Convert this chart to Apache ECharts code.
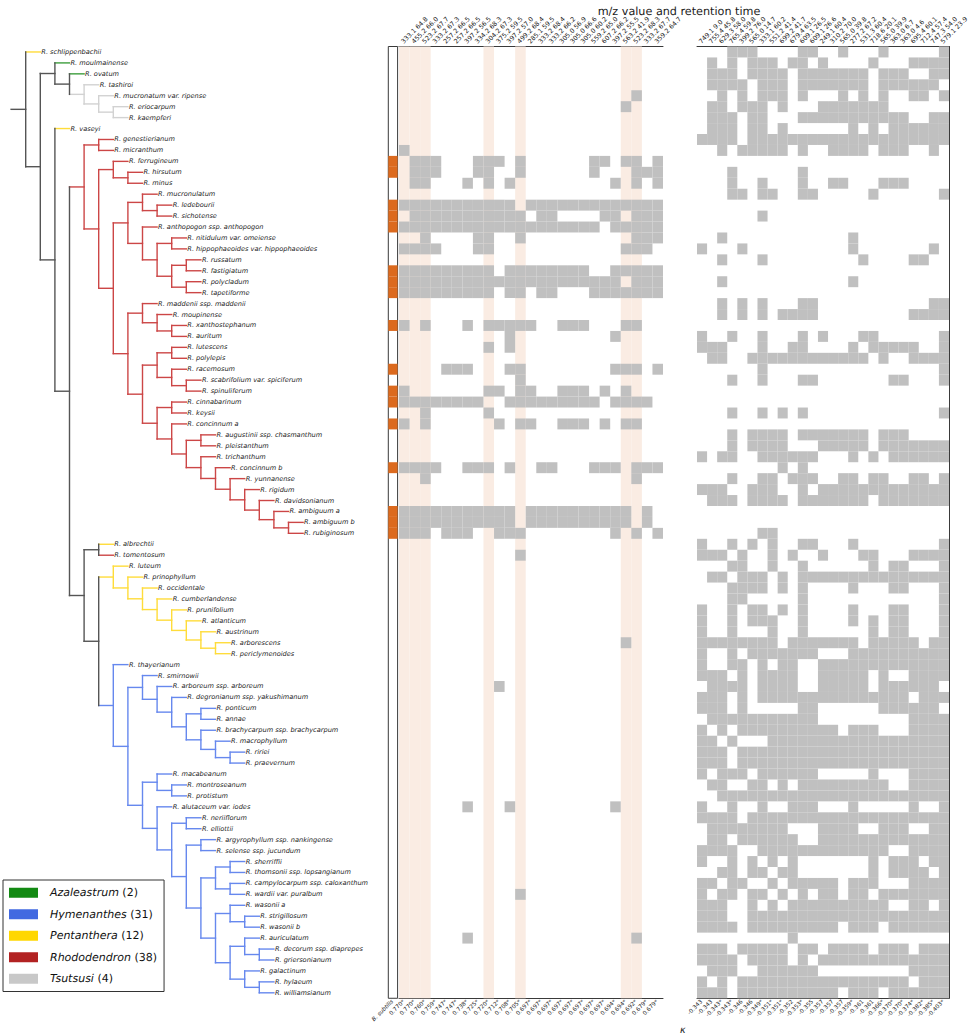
<!DOCTYPE html>
<html>
<head>
<meta charset="utf-8">
<script src="https://cdn.jsdelivr.net/npm/echarts@6/dist/echarts.min.js"></script>
<style>html,body{margin:0;padding:0;background:#fff}#c{width:970px;height:1036px}#c text{-webkit-font-smoothing:antialiased;text-rendering:geometricPrecision}</style>
</head>
<body>
<div id="c"></div>
<script>
// ---------------- DATA ----------------
const tree = [
 'R. schlippenbachii',
 [
  ['R. moulmainense',
   ['R. ovatum',
    ['R. tashiroi',
     ['R. mucronatum var. ripense', ['R. eriocarpum', 'R. kaempferi']]]]],
  ['R. vaseyi',
   [
    [
     ['R. genestierianum', 'R. micranthum'],
     [
      ['R. ferrugineum', ['R. hirsutum', 'R. minus']],
      [
       [
        ['R. mucronulatum', ['R. ledebourii', 'R. sichotense']],
        ['R. anthopogon ssp. anthopogon',
         [['R. nitidulum var. omeiense', 'R. hippophaeoides var. hippophaeoides'],
          [['R. russatum', 'R. fastigiatum'], ['R. polycladum', 'R. tapetiforme']]]]
       ],
       [
        ['R. maddenii ssp. maddenii', ['R. moupinense', ['R. xanthostephanum', 'R. auritum']]],
        [
         [['R. lutescens', 'R. polylepis'], ['R. racemosum', ['R. scabrifolium var. spiciferum', 'R. spinuliferum']]],
         [['R. cinnabarinum', 'R. keysii'],
          ['R. concinnum a',
           [['R. augustinii ssp. chasmanthum', 'R. pleistanthum'],
            ['R. trichanthum',
             ['R. concinnum b',
              ['R. yunnanense',
               ['R. rigidum',
                ['R. davidsonianum',
                 ['R. ambiguum a', ['R. ambiguum b', 'R. rubiginosum']]]]]]]]]]
        ]
       ]
      ]
     ]
    ],
    [
     ['R. albrechtii', 'R. tomentosum'],
     [
      ['R. luteum', ['R. prinophyllum', ['R. occidentale', ['R. cumberlandense', ['R. prunifolium',
        ['R. atlanticum', ['R. austrinum', ['R. arborescens', 'R. periclymenoides']]]]]]]],
      ['R. thayerianum',
       [
        ['R. smirnowii', ['R. arboreum ssp. arboreum', ['R. degronianum ssp. yakushimanum',
          [['R. ponticum', 'R. annae'],
           ['R. brachycarpum ssp. brachycarpum', ['R. macrophyllum', ['R. ririei', 'R. praevernum']]]]]]],
        [
         ['R. macabeanum', ['R. montroseanum', 'R. protistum']],
         ['R. alutaceum var. iodes',
          [
           ['R. neriiflorum', 'R. elliottii'],
           [
            ['R. argyrophyllum ssp. nankingense', 'R. selense ssp. jucundum'],
            [
             [['R. sherriffii', 'R. thomsonii ssp. lopsangianum'],
              ['R. campylocarpum ssp. caloxanthum', 'R. wardii var. puralbum']],
             [['R. wasonii a', ['R. strigillosum', 'R. wasonii b']],
              [['R. auriculatum', ['R. decorum ssp. diaprepes', 'R. griersonianum']],
               ['R. galactinum', ['R. hylaeum', 'R. williamsianum']]]]
            ]
           ]
          ]]
        ]
       ]]
     ]
    ]
   ]]
 ]
];

const subgenera = ['Azaleastrum', 'Hymenanthes', 'Pentanthera', 'Rhododendron', 'Tsutsusi'];
const azaleastrum = ['R. moulmainense', 'R. ovatum'];
const tsutsusi = ['R. tashiroi', 'R. mucronatum var. ripense', 'R. eriocarpum', 'R. kaempferi'];
const pentanthera = ['R. schlippenbachii', 'R. vaseyi', 'R. albrechtii', 'R. luteum', 'R. prinophyllum',
  'R. occidentale', 'R. cumberlandense', 'R. prunifolium', 'R. atlanticum', 'R. austrinum',
  'R. arborescens', 'R. periclymenoides'];
const rhododendron = ['R. genestierianum', 'R. micranthum', 'R. ferrugineum', 'R. hirsutum', 'R. minus',
  'R. mucronulatum', 'R. ledebourii', 'R. sichotense', 'R. anthopogon ssp. anthopogon',
  'R. nitidulum var. omeiense', 'R. hippophaeoides var. hippophaeoides', 'R. russatum', 'R. fastigiatum',
  'R. polycladum', 'R. tapetiforme', 'R. maddenii ssp. maddenii', 'R. moupinense', 'R. xanthostephanum',
  'R. auritum', 'R. lutescens', 'R. polylepis', 'R. racemosum', 'R. scabrifolium var. spiciferum',
  'R. spinuliferum', 'R. cinnabarinum', 'R. keysii', 'R. concinnum a', 'R. augustinii ssp. chasmanthum',
  'R. pleistanthum', 'R. trichanthum', 'R. concinnum b', 'R. yunnanense', 'R. rigidum', 'R. davidsonianum',
  'R. ambiguum a', 'R. ambiguum b', 'R. rubiginosum', 'R. tomentosum'];
const hymenanthes = ['R. thayerianum', 'R. smirnowii', 'R. arboreum ssp. arboreum',
  'R. degronianum ssp. yakushimanum', 'R. ponticum', 'R. annae', 'R. brachycarpum ssp. brachycarpum',
  'R. macrophyllum', 'R. ririei', 'R. praevernum', 'R. macabeanum', 'R. montroseanum', 'R. protistum',
  'R. alutaceum var. iodes', 'R. neriiflorum', 'R. elliottii', 'R. argyrophyllum ssp. nankingense',
  'R. selense ssp. jucundum', 'R. sherriffii', 'R. thomsonii ssp. lopsangianum',
  'R. campylocarpum ssp. caloxanthum', 'R. wardii var. puralbum', 'R. wasonii a', 'R. strigillosum',
  'R. wasonii b', 'R. auriculatum', 'R. decorum ssp. diaprepes', 'R. griersonianum', 'R. galactinum',
  'R. hylaeum', 'R. williamsianum'];

const posLabels = ['333.1 64.8','455.2 66.0','523.2 67.7','333.2 67.3','257.2 66.5','257.2 66.5','397.2 56.5',
  '334.2 68.3','304.2 67.3','375.2 59.5','397.2 57.0','499.2 68.4','285.1 59.5','333.2 68.4','333.2 66.2',
  '305.0 56.9','305.0 66.6','305.0 60.2','559.2 65.0','607.2 66.2','397.2 55.5','563.2 41.9','523.2 68.3',
  '333.2 67.7','359.2 64.7'];
const posKappa = ['0.770*','0.770*','0.760*','0.759*','0.747*','0.747*','0.738*','0.725*','0.720*','0.712*',
  '0.708*','0.705*','0.697*','0.697*','0.697*','0.697*','0.697*','0.697*','0.697*','0.697*','0.694*','0.694*',
  '0.692*','0.679*','0.679*'];
const negLabels = ['749.1 9.0','755.4 45.8','629.3 58.0','765.4 59.8','399.2 76.0','565.0 14.7','333.1 60.2',
  '551.2 41.4','699.2 41.7','679.4 63.5','609.1 26.5','609.1 26.6','249.1 60.4','310.2 70.0','565.0 39.8',
  '277.2 67.2','531.3 60.4','718.6 20.1','565.0 39.9','363.0 6.7','363.0 4.6','695.4 60.1','712.4 57.4',
  '747.3 54.0','579.1 23.9'];
const negKappa = ['-0.343','-0.343','-0.343*','-0.343*','-0.346','-0.346','-0.349*','-0.351*','-0.351*','-0.352',
  '-0.353*','-0.355','-0.357','-0.357','-0.357','-0.359*','-0.361','-0.361','-0.366*','-0.370*','-0.370*',
  '-0.374*','-0.382*','-0.385*','-0.403*'];

// B. subtilis presence (row indices, in tree order)
const bSubtilisRows = [10, 11, 14, 15, 16, 20, 21, 22, 25, 29, 31, 32, 34, 38, 42, 43, 44];
// highlighted columns of the positive block
const highlightCols = [0, 1, 2, 8, 11, 21, 22];

// presence / absence per taxon (tree order), positive block
const posRows = [
 '0000000000000000000000000','0000000000000000000000000','0000000000000000000000000','0000000000000000000000000',
 '0000000000000000000000100','0000000000000000000001000','0000000000000000000000000','0000000000000000000000000',
 '0000000000000000000000000','1000000000000000000000000','0111000111010000001101101','0111000110010000001000111',
 '0110001010100000000010101','0000000000000000000000000','1111111111101111111111111','0111111111110110000110111',
 '1111111111111111111011111','0010000110010000000000111','1111000110000000000001110','0000000000000000000000000',
 '1111111110111111110011111','1111111111111111111110111','1111111110110110001111111','0000000000000000000000000',
 '0000000000000000000000000','1010001011111001110001100','0000000000100000000010000','0000000010100000000000000',
 '0000000000000000000000000','0000111000110000000011101','0000000000010000000000000','1000000011011001110101000',
 '1111111100111111111011110','0010000010000000000000000','1010000001011001110101100','0000000000000000000000000',
 '0000000000000000000000000','0000000000000000000000000','1111001110100110001110111','0010000000000000000000100',
 '0000000000000000000000000','0000000000000000000000000','1111111111101111111111010','1111111111101111111111010',
 '1110111001110000000010101','0000000000000000000000000','0000000000010000000000000','0000000000000000000000000',
 '0000000000000000000000000','0000000000000000000000000','0000000000000000000000000','0000000000000000000000000',
 '0000000000000000000000000','0000000000000000000000000','0000000000000000000001000','0000000000000000000000000',
 '0000000000000000000000000','0000000000000000000000000','0000000001000000000000000','0000000000000000000000000',
 '0000000000000000000000000','0000000000000000000000000','0000000000000000000000000','0000000000000000000000000',
 '0000000000000000000000000','0000000000000000000000000','0000000000000000000000000','0000000000000000000000000',
 '0000000000000000000000000','0000001000100000000010000','0000000000000000000000000','0000000000000000000000000',
 '0000000000000000000000000','0000000000000000000000000','0000000000000000000000000','0000000000000000000000000',
 '0000000000000000000000000','0000000000010000000000000','0000000000000000000000000','0000000000000000000000000',
 '0000000000000000000000000','0000001000000000000000100','0000000000000000000000000','0000000000000000000000000',
 '0000000000000000000000000','0000000000000000000000000','0000000000000000000000000'
];
// negative block
const negRows = [
 '0001110000110010001000001','0101011101101000010001111','0111011110111111101110011','0111101110111111101111110',
 '0010101110100010101001101','0110111010001111111000000','0111011000111111111110011','0111011010000001010111111',
 '1111011111111111111111111','0010111110100111101110010','0000000000000000000000000','0001000000100000000000000',
 '0001001000100110001110000','0001101100110000010000001','0000000000000000000000000','0000001000000000000000000',
 '0000000000000000000000000','0010000000000001000000000','1000100000000001000000010','0010001000000000100001100',
 '0000000000000000000000000','0010000000000001000000000','0000000000000000000000000','0010101000110000000000011',
 '0010101011110000000001111','0000000000000000000000000','1001001000101000110000001','1110001001100001011111001',
 '0110011111111111101001111','0000001000000000000000001','0001001000110000000110001','0000000000000000000000000',
 '0000000000000000000000000','0001001010100000000000001','0000000000000000000000000','0001011110111111101110000',
 '0001011110001111101111111','1011001111110001010111111','0000000010100000000000000','0001001101110011011001101',
 '1110011100101111111111111','0111011110111111101111111','0000000000000000000000000','0000000000000000000000000',
 '0000001100000000000000000','1001010100110001000000001','1110100101001000110001111','0001100100100000010110001',
 '0110111010111111111111111','0001111010100001000110001','0001100000100000000000001','1001011010100001000110001',
 '1001011100100001010110001','1001000100100000010110001','1111111101111111011111011','1001011111110001111111111',
 '1001101011001111111111111','1110101111001111101001111','0111101111001111101111110','1110101111111111111110111',
 '1110100000110000001111110','0111111111110000000001111','1010111111111101110001111','1101000111111111111111111',
 '1110111111111111111111111','1110111111111111111111111','1011101111110000010001111','0110011010111111111001111',
 '0011111111111111111111111','1001001001110001000001001','1111011111111111111111111','0111111110001111001110011',
 '0110111111001111111111111','1111001111111111111001111','1001010101000000010111011','0011011011000000010111101',
 '1101100101111101110001111','1011011010101101101111111','1110010101111111111001101','1110011111111111111111111',
 '1111011111111101110111111','0000000001000000000000000','1110111110110111101110111','1111011110101111111111111',
 '0111001111110000000001111','1010111111111111111110111','1110111111111101110111111'
];

// ---------------- STYLE ----------------
const FONT = 'DejaVu Sans';
const TXT = '#1a1a1a';
const legendColor = {Azaleastrum:'#138a13', Hymenanthes:'#4169e1', Pentanthera:'#ffd700', Rhododendron:'#b22222', Tsutsusi:'#c8c8c8'};
const lineColor = {Azaleastrum:'#3d9e3d', Hymenanthes:'#6688ee', Pentanthera:'#ffdc3a', Rhododendron:'#cc4646', Tsutsusi:'#d2d2d2', mixed:'#555555'};
const TOP = 46.5, ROWH = 10.94;

// ---------------- LAYOUT (from data) ----------------
const groupOf = {};
[[azaleastrum,'Azaleastrum'],[hymenanthes,'Hymenanthes'],[pentanthera,'Pentanthera'],[rhododendron,'Rhododendron'],[tsutsusi,'Tsutsusi']]
  .forEach(([arr, g]) => arr.forEach(n => groupOf[n] = g));
const counts = {};
subgenera.forEach(g => counts[g] = 0);
Object.values(groupOf).forEach(g => counts[g]++);

const segs = {mixed: []};
subgenera.forEach(g => segs[g] = []);
const leaves = [];
function walk(node, depth) {
  if (typeof node === 'string') {
    const row = leaves.length;
    leaves.push({name: node, row: row, depth: depth});
    return {x: depth, y: row, grp: groupOf[node] || 'mixed'};
  }
  const kids = node.map(ch => walk(ch, depth + 1));
  const first = kids[0], last = kids[kids.length - 1];
  const grp = kids.every(k => k.grp === first.grp) ? first.grp : 'mixed';
  segs[grp].push([depth, first.y, depth, last.y]);
  kids.forEach(k => segs[k.grp].push([depth, k.y, k.x, k.y]));
  return {x: depth, y: (first.y + last.y) / 2, grp: grp};
}
const rootInfo = walk(tree, 0);
segs[rootInfo.grp].push([-1, rootInfo.y, 0, rootInfo.y]);
const NROW = leaves.length;

function cells(rows) {
  const out = [];
  rows.forEach((s, r) => { for (let c = 0; c < s.length; c++) if (s[c] === '1') out.push([c, r]); });
  return out;
}

// ---------------- CHART ----------------
const chart = echarts.init(document.getElementById('c'), null, {renderer: 'svg', width: 970, height: 1036});

const H = NROW * ROWH;
const yBase = {type: 'value', min: -0.5, max: NROW - 0.5, inverse: true,
  axisLabel: {show: false}, axisTick: {show: false}, splitLine: {show: false}};

function lineRender(color) {
  return function (params, api) {
    const p1 = api.coord([api.value(0), api.value(1)]);
    const p2 = api.coord([api.value(2), api.value(3)]);
    return {type: 'line', shape: {x1: p1[0], y1: p1[1], x2: p2[0], y2: p2[1]},
      style: {stroke: color, lineWidth: 1.4, lineCap: 'square'}};
  };
}
function cellRender(fill) {
  return function (params, api) {
    const c = api.coord([api.value(0), api.value(1)]);
    const s = api.size([1, 1]);
    return {type: 'rect', shape: {x: c[0] - s[0] / 2, y: c[1] - s[1] / 2, width: s[0], height: s[1]},
      style: {fill: fill}};
  };
}
function topLabelRender(labels) {
  return function (params, api) {
    const i = params.dataIndex;
    const c = api.coord([i, -0.5]);
    return {type: 'text', x: c[0] - 2, y: c[1] - 4, rotation: Math.PI / 4,
      style: {text: labels[i], fontSize: 6.4, fontFamily: FONT, fill: TXT,
        align: 'left', verticalAlign: 'middle'}};
  };
}

const series = [];
subgenera.concat(['mixed']).forEach(g => {
  series.push({
    type: 'custom', name: g, xAxisIndex: 0, yAxisIndex: 0, silent: true,
    itemStyle: {color: legendColor[g] || lineColor.mixed},
    renderItem: lineRender(lineColor[g]), data: segs[g]
  });
});
series.push({
  type: 'custom', name: 'leafLabels', xAxisIndex: 0, yAxisIndex: 0, silent: true,
  itemStyle: {color: TXT},
  renderItem: function (params, api) {
    const lf = leaves[params.dataIndex];
    const c = api.coord([lf.depth, lf.row]);
    return {type: 'text', x: c[0] + 1, y: c[1],
      style: {text: lf.name, fill: TXT, fontSize: 6.6, fontStyle: 'italic', fontFamily: FONT,
        align: 'left', verticalAlign: 'middle'}};
  },
  data: leaves.map(l => [l.depth, l.row])
});
series.push({
  type: 'custom', name: 'bsub', xAxisIndex: 1, yAxisIndex: 1, silent: true,
  renderItem: cellRender('#dc6a1e'), data: bSubtilisRows.map(r => [0, r])
});
series.push({
  type: 'custom', name: 'highlight', xAxisIndex: 2, yAxisIndex: 2, silent: true, z: 1,
  renderItem: function (params, api) {
    const c = api.coord([api.value(0), (NROW - 1) / 2]);
    const s = api.size([1, NROW]);
    return {type: 'rect', shape: {x: c[0] - s[0] / 2, y: c[1] - s[1] / 2, width: s[0], height: s[1]},
      style: {fill: '#faece3'}};
  },
  data: highlightCols.map(c => [c, 0])
});
series.push({
  type: 'custom', name: 'pos', xAxisIndex: 2, yAxisIndex: 2, silent: true, z: 2,
  renderItem: cellRender('#c0c0c0'), data: cells(posRows)
});
series.push({
  type: 'custom', name: 'neg', xAxisIndex: 4, yAxisIndex: 3, silent: true, z: 2,
  renderItem: cellRender('#c0c0c0'), data: cells(negRows)
});
series.push({
  type: 'custom', name: 'posTop', xAxisIndex: 2, yAxisIndex: 2, silent: true, z: 3,
  itemStyle: {color: TXT},
  renderItem: topLabelRender(posLabels), data: posLabels.map((l, i) => [i, -0.5])
});
series.push({
  type: 'custom', name: 'negTop', xAxisIndex: 4, yAxisIndex: 3, silent: true, z: 3,
  itemStyle: {color: TXT},
  renderItem: topLabelRender(negLabels), data: negLabels.map((l, i) => [i, -0.5])
});

const botLabel = {rotate: 45, interval: 0, fontSize: 5.7, margin: 3, color: TXT, fontFamily: FONT};
const frame = {show: true, onZero: false, lineStyle: {color: '#3a3a3a', width: 1}};

const option = {
  animation: false,
  backgroundColor: '#ffffff',
  title: [
    {text: 'm/z value and retention time', left: 674, top: 1, textAlign: 'center',
      textStyle: {fontSize: 11.2, fontWeight: 'normal', color: TXT, fontFamily: FONT}},
    {text: 'κ', left: 675, top: 1020,
      textStyle: {fontSize: 9.5, fontStyle: 'italic', fontWeight: 'normal', color: TXT, fontFamily: FONT}}
  ],
  legend: {
    data: subgenera, orient: 'vertical', left: 3, top: 880, icon: 'rect',
    itemWidth: 29, itemHeight: 10, itemGap: 8, selectedMode: false,
    padding: [6, 7, 6, 6], borderColor: '#333', borderWidth: 1, backgroundColor: '#fff',
    formatter: name => '{sp|}{i|' + name + '} (' + counts[name] + ')',
    textStyle: {fontSize: 11, lineHeight: 13.5, color: '#111', fontFamily: FONT,
      rich: {sp: {width: 7}, i: {fontSize: 11, fontStyle: 'italic', fontFamily: FONT, color: '#111'}}}
  },
  grid: [
    {left: 11.1, top: TOP, width: 14.6 * 26, height: H},
    {left: 388.3, top: TOP, width: 9.3, height: H, show: true, borderColor: '#3a3a3a', borderWidth: 1},
    {left: 399, top: TOP, width: 264, height: H},
    {left: 697, top: TOP, width: 252, height: H}
  ],
  xAxis: [
    {gridIndex: 0, type: 'value', min: -1, max: 25, show: false},
    {gridIndex: 1, type: 'category', data: ['B. subtilis'], position: 'bottom',
      axisLine: {show: false}, axisTick: {show: false},
      axisLabel: Object.assign({}, botLabel, {fontStyle: 'italic'})},
    {gridIndex: 2, type: 'category', data: posLabels, position: 'top',
      axisLine: frame, axisTick: {show: false}, axisLabel: {show: false}},
    {gridIndex: 2, type: 'category', data: posKappa, position: 'bottom',
      axisLine: frame, axisTick: {show: false}, axisLabel: botLabel},
    {gridIndex: 3, type: 'category', data: negLabels, position: 'top',
      axisLine: frame, axisTick: {show: false}, axisLabel: {show: false}},
    {gridIndex: 3, type: 'category', data: negKappa, position: 'bottom',
      axisLine: frame, axisTick: {show: false}, axisLabel: botLabel}
  ],
  yAxis: [
    Object.assign({gridIndex: 0, show: false}, yBase),
    Object.assign({gridIndex: 1, show: false}, yBase),
    Object.assign({gridIndex: 2, position: 'left', axisLine: frame}, yBase),
    Object.assign({gridIndex: 3, position: 'right', axisLine: frame}, yBase)
  ],
  series: series
};
chart.setOption(option);
</script>
</body>
</html>
